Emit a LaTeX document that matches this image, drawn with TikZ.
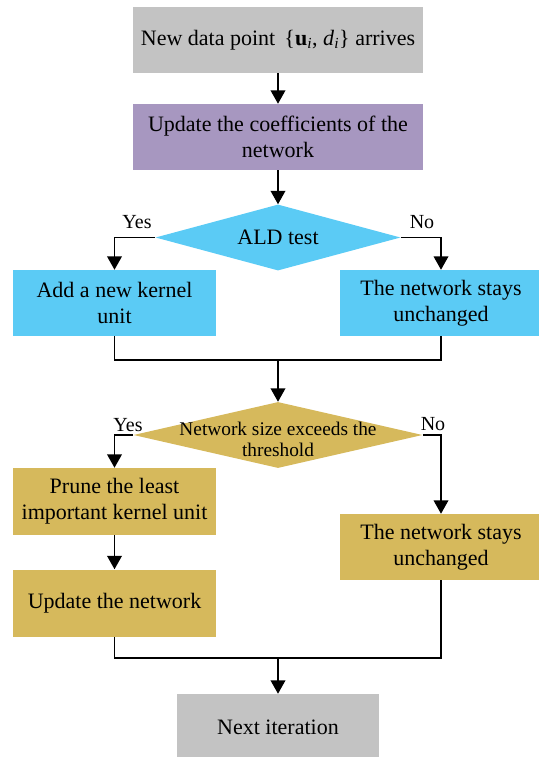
\documentclass[tikz,border=0pt]{standalone}
\usepackage{fontspec}
\setmainfont{Liberation Serif}
\usetikzlibrary{shapes.geometric,arrows.meta}
\definecolor{cgray}{HTML}{C3C3C3}
\definecolor{cpurple}{HTML}{A797C0}
\definecolor{ccyan}{HTML}{5BCBF5}
\definecolor{cgold}{HTML}{D6B95C}
\begin{document}
\begin{tikzpicture}[x=0.75pt,y=-0.75pt,
  box/.style={rectangle, inner sep=0pt, align=center, font=\fontsize{16.5}{19.5}\selectfont},
  dia/.style={diamond, inner sep=0pt, aspect=3.7},
  arr/.style={line width=1pt, -{Triangle[width=11pt,length=10pt]}},
  ln/.style={line width=1pt},
  lab/.style={font=\fontsize{15}{16}\selectfont, inner sep=0pt}]
\useasboundingbox (0,0) rectangle (539,757);

\node[box, fill=cgray, minimum width=217.5pt, minimum height=49.5pt] (top) at (278,40)
  {New data point~\,\{\textbf{u}\textsubscript{\textit{i}}, \textit{d}\textsubscript{\textit{i}}\} arrives};
\node[box, fill=cpurple, minimum width=217.5pt, minimum height=49.5pt] (upd) at (278,137)
  {Update the coefficients of the\\network};
\node[dia, fill=ccyan, minimum width=183.75pt, minimum height=49.5pt] (ald) at (278,237.5) {};
\node[box] (aldt) at (278,237.5) {ALD test};
\node[box, fill=ccyan, minimum width=152.25pt, minimum height=49.5pt] (add) at (114.5,303)
  {Add a new kernel\\unit};
\node[box, fill=ccyan, minimum width=151.5pt, minimum height=49.5pt] (keep1) at (441,303)
  {The network stays\\unchanged};
\coordinate (m1) at (278,360);
\node[dia, fill=cgold, minimum width=216.75pt, minimum height=49.5pt] (d2) at (278,435) {};
\node[box, font=\fontsize{14.5}{15.75}\selectfont] (d2t) at (278,439) {Network size exceeds the\\threshold};
\node[box, fill=cgold, minimum width=152.25pt, minimum height=50.25pt] (prune) at (114.5,501.5)
  {Prune the least\\important kernel unit};
\node[box, fill=cgold, minimum width=152.25pt, minimum height=50.25pt] (upd2) at (114.5,603)
  {Update the network};
\node[box, fill=cgold, minimum width=151.5pt, minimum height=49.5pt] (keep2) at (441,547)
  {The network stays\\unchanged};
\coordinate (m2) at (278,658);
\node[box, fill=cgray, minimum width=151.5pt, minimum height=49.5pt] (next) at (278,727)
  {Next iteration};

\node[lab] (y1) at (137,222) {Yes};
\node[lab] (n1) at (422,222) {No};
\node[lab] (y2) at (128,425) {Yes};
\node[lab] (n2) at (433,424) {No};

\draw[arr] (top) -- (upd);
\draw[arr] (upd) -- (ald.north);
\draw[arr] (ald.west) -| (add.north);
\draw[arr] (ald.east) -| (keep1.north);
\draw[ln] (add.south) |- (m1) -| (keep1.south);
\draw[arr] (m1) -- (d2.north);
\draw[arr] (d2.west) -| (prune.north);
\draw[arr] (d2.east) -| (keep2.north);
\draw[arr] (prune) -- (upd2);
\draw[ln] (upd2.south) |- (m2) -| (keep2.south);
\draw[arr] (m2) -- (next);
\end{tikzpicture}
\end{document}
